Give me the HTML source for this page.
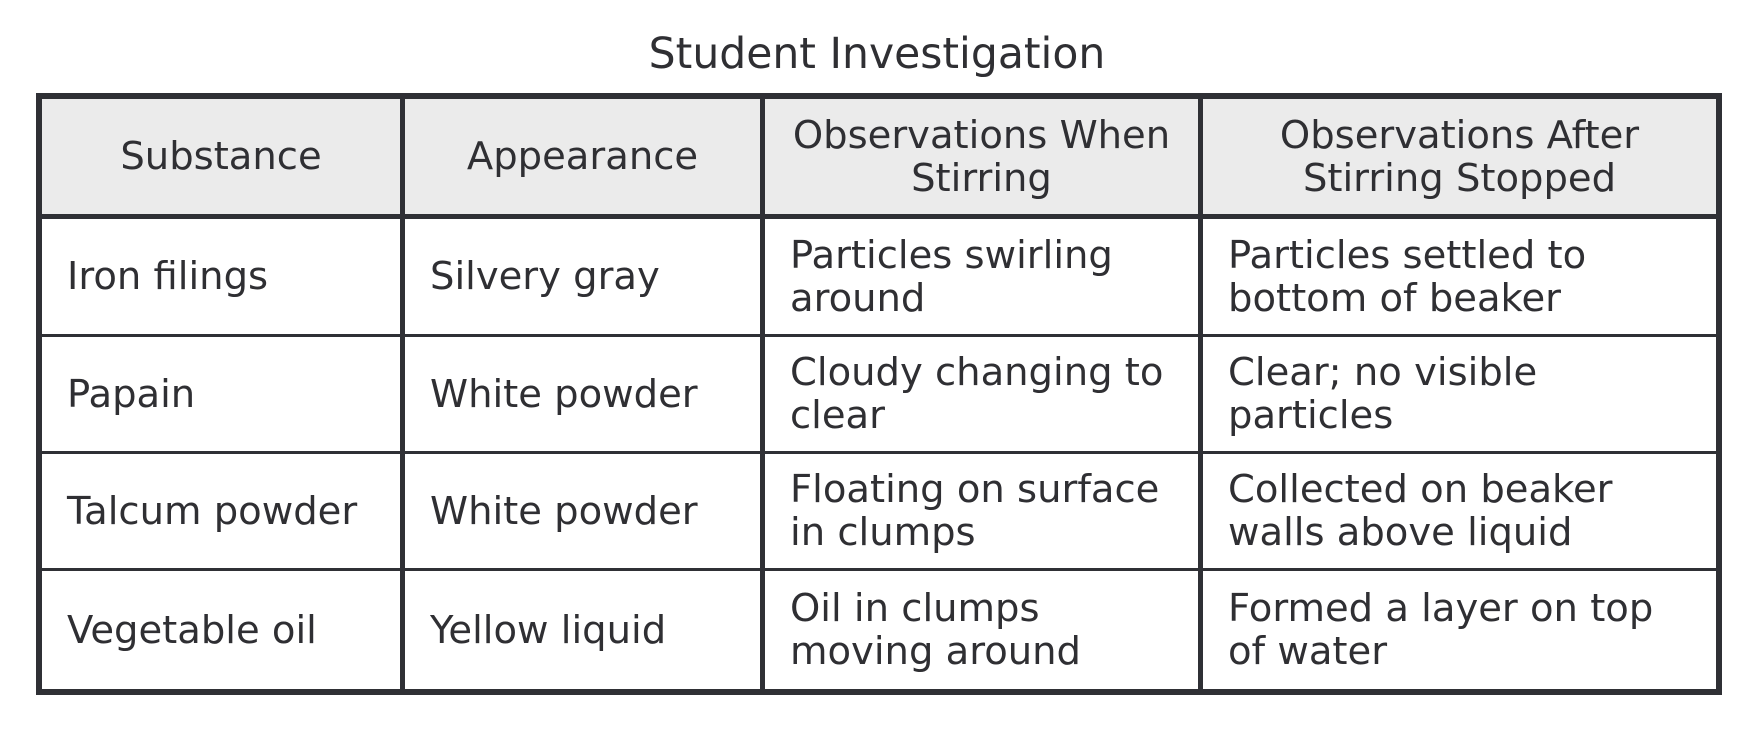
<!DOCTYPE html>
<html><head><meta charset="utf-8"><style>
body{margin:0;width:1754px;height:730px;background:#fff;position:relative;overflow:hidden;font-family:"DejaVu Sans","Liberation Sans",sans-serif;color:#2f2f33}
.t{position:absolute;left:0;width:1754px;top:30px;text-align:center;font-size:42.5px}
.ln{position:absolute;background:#2f3035}
.c{position:absolute;font-size:38.5px;line-height:43px;display:flex;align-items:center;box-sizing:border-box;white-space:nowrap}
.h{justify-content:center;text-align:center}
.b{padding-left:25px}
</style></head><body>
<div class="t">Student Investigation</div>
<div style="position:absolute;left:40px;top:97px;width:1678px;height:118px;background:#ebebeb"></div>
<div class="ln" style="left:36px;top:93px;width:1686px;height:6px"></div>
<div class="ln" style="left:36px;top:689px;width:1686px;height:6px"></div>
<div class="ln" style="left:36px;top:93px;width:6px;height:602px"></div>
<div class="ln" style="left:1716px;top:93px;width:6px;height:602px"></div>
<div class="ln" style="left:400px;top:93px;width:5px;height:602px"></div>
<div class="ln" style="left:760px;top:93px;width:5px;height:602px"></div>
<div class="ln" style="left:1198px;top:93px;width:5px;height:602px"></div>
<div class="ln" style="left:36px;top:214px;width:1686px;height:5px"></div>
<div class="ln" style="left:36px;top:334px;width:1686px;height:3px"></div>
<div class="ln" style="left:36px;top:451px;width:1686px;height:3px"></div>
<div class="ln" style="left:36px;top:568px;width:1686px;height:3px"></div>

<div class="c h" style="left:42px;top:99px;width:358px;height:115px">Substance</div>
<div class="c h" style="left:405px;top:99px;width:355px;height:115px">Appearance</div>
<div class="c h" style="left:765px;top:99px;width:433px;height:115px">Observations When<br>Stirring</div>
<div class="c h" style="left:1203px;top:99px;width:513px;height:115px">Observations After<br>Stirring Stopped</div>

<div class="c b" style="left:42px;top:219px;width:358px;height:115px">Iron filings</div>
<div class="c b" style="left:405px;top:219px;width:355px;height:115px">Silvery gray</div>
<div class="c b" style="left:765px;top:219px;width:433px;height:115px">Particles swirling<br>around</div>
<div class="c b" style="left:1203px;top:219px;width:513px;height:115px">Particles settled to<br>bottom of beaker</div>

<div class="c b" style="left:42px;top:337px;width:358px;height:114px">Papain</div>
<div class="c b" style="left:405px;top:337px;width:355px;height:114px">White powder</div>
<div class="c b" style="left:765px;top:337px;width:433px;height:114px">Cloudy changing to<br>clear</div>
<div class="c b" style="left:1203px;top:337px;width:513px;height:114px">Clear; no visible<br>particles</div>

<div class="c b" style="left:42px;top:454px;width:358px;height:114px">Talcum powder</div>
<div class="c b" style="left:405px;top:454px;width:355px;height:114px">White powder</div>
<div class="c b" style="left:765px;top:454px;width:433px;height:114px">Floating on surface<br>in clumps</div>
<div class="c b" style="left:1203px;top:454px;width:513px;height:114px">Collected on beaker<br>walls above liquid</div>

<div class="c b" style="left:42px;top:571px;width:358px;height:118px">Vegetable oil</div>
<div class="c b" style="left:405px;top:571px;width:355px;height:118px">Yellow liquid</div>
<div class="c b" style="left:765px;top:571px;width:433px;height:118px">Oil in clumps<br>moving around</div>
<div class="c b" style="left:1203px;top:571px;width:513px;height:118px">Formed a layer on top<br>of water</div>
</body></html>
